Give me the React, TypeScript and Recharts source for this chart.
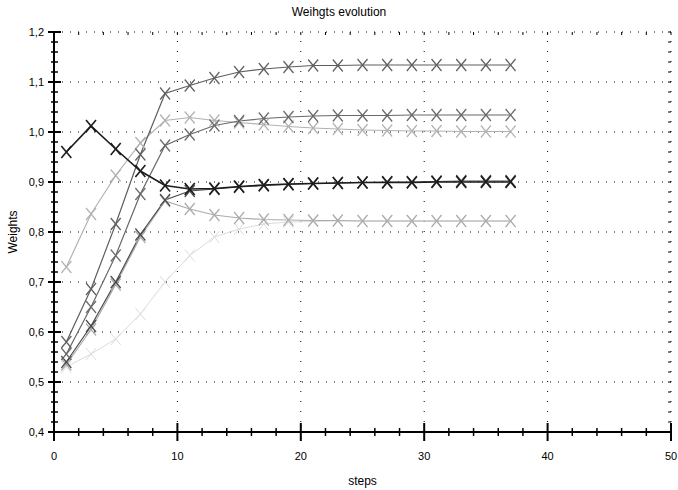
import React from "react";
import {
  LineChart,
  Line,
  XAxis,
  YAxis,
  ReferenceLine,
  Label,
} from "recharts";

// steps where the weights were sampled (marker positions)
const steps = [1, 3, 5, 7, 9, 11, 13, 15, 17, 19, 21, 23, 25, 27, 29, 31, 33, 35, 37];

const weightA = [0.58, 0.686, 0.816, 0.955, 1.077, 1.093, 1.108, 1.12, 1.126, 1.13, 1.133, 1.133, 1.134, 1.134, 1.134, 1.134, 1.134, 1.134, 1.134];
const weightB = [0.556, 0.65, 0.753, 0.876, 0.973, 0.995, 1.013, 1.022, 1.027, 1.03, 1.032, 1.033, 1.033, 1.033, 1.034, 1.034, 1.034, 1.034, 1.034];
const weightC = [0.73, 0.836, 0.913, 0.978, 1.023, 1.029, 1.023, 1.019, 1.015, 1.011, 1.008, 1.006, 1.004, 1.003, 1.002, 1.002, 1.001, 1.001, 1.001];
const weightD = [0.96, 1.012, 0.966, 0.922, 0.893, 0.886, 0.887, 0.891, 0.894, 0.896, 0.897, 0.898, 0.899, 0.899, 0.899, 0.9, 0.9, 0.9, 0.9];
const weightE = [0.54, 0.612, 0.7, 0.795, 0.864, 0.882, 0.886, 0.89, 0.893, 0.895, 0.897, 0.898, 0.899, 0.9, 0.9, 0.901, 0.902, 0.902, 0.902];
const weightF = [0.535, 0.605, 0.695, 0.79, 0.862, 0.846, 0.834, 0.828, 0.825, 0.824, 0.823, 0.823, 0.822, 0.822, 0.822, 0.822, 0.822, 0.822, 0.822];
const weightG = [0.53, 0.556, 0.586, 0.636, 0.7, 0.753, 0.79, 0.806, 0.816, 0.82, 0.821, 0.822, 0.822, 0.822, 0.822, 0.822, 0.822, 0.822, 0.822];

const xLabels = [0, 10, 20, 30, 40, 50];
const yLabels = [0.4, 0.5, 0.6, 0.7, 0.8, 0.9, 1.0, 1.1, 1.2];

// minor ticks: every 2 steps / every 0.02
const xTicks = Array.from({ length: 26 }, (_, i) => i * 2);
const yTicks = Array.from({ length: 41 }, (_, i) => Math.round((0.4 + i * 0.02) * 100) / 100);

const chartData = steps.map((step, i) => ({
  step,
  a: weightA[i],
  b: weightB[i],
  c: weightC[i],
  d: weightD[i],
  e: weightE[i],
  f: weightF[i],
  g: weightG[i],
}));

const W = 678;
const H = 490;
const LEFT = 54;
const TOP = 32;
const PLOT_W = 617;
const PLOT_H = 400;
const FONT = "'Liberation Sans', Arial, sans-serif";

const XTick = (props: any) => {
  const { x, y, payload } = props;
  const major = payload.value % 10 === 0;
  return (
    <g>
      <line x1={x} x2={x} y1={y - (major ? 9 : 4)} y2={y + (major ? 9 : 4)} stroke="#000" strokeWidth={major ? 2 : 1.5} />
      <line x1={x} x2={x} y1={y - PLOT_H} y2={y - PLOT_H + 3} stroke="#000" strokeWidth={1} />
      {major && xLabels.includes(payload.value) && (
        <text x={x} y={y + 28} textAnchor="middle" fontSize={11} fontFamily={FONT} fill="#000">
          {payload.value}
        </text>
      )}
    </g>
  );
};

const YTick = (props: any) => {
  const { x, y, payload } = props;
  const major = Math.round(payload.value * 100) % 10 === 0;
  return (
    <g>
      <line x1={x - (major ? 6 : 3)} x2={x + (major ? 7 : 4)} y1={y} y2={y} stroke="#000" strokeWidth={major ? 2 : 1.5} />
      <line x1={x + PLOT_W - 3} x2={x + PLOT_W} y1={y} y2={y} stroke="#000" strokeWidth={1} />
      {major && (
        <text x={x - 10} y={y + 4} textAnchor="end" fontSize={11} fontFamily={FONT} fill="#000">
          {payload.value.toFixed(1).replace(".", ",")}
        </text>
      )}
    </g>
  );
};

const makeCross = (color: string, sw: number) => (props: any) => {
  const { cx, cy, index } = props;
  if (cx == null || cy == null) return <g key={index} />;
  return (
    <g key={index}>
      <line x1={cx - 5} y1={cy - 6} x2={cx + 5} y2={cy + 6} stroke={color} strokeWidth={sw} />
      <line x1={cx - 5} y1={cy + 6} x2={cx + 5} y2={cy - 6} stroke={color} strokeWidth={sw} />
    </g>
  );
};

const series = [
  { key: "g", color: "#dcdcdc", width: 1 },
  { key: "f", color: "#ababab", width: 1.2 },
  { key: "c", color: "#b2b2b2", width: 1.2 },
  { key: "e", color: "#4a4a4a", width: 1.2 },
  { key: "b", color: "#686868", width: 1.2 },
  { key: "a", color: "#5e5e5e", width: 1.2 },
  { key: "d", color: "#1c1c1c", width: 1.6 },
];

export default function App() {
  return (
    <div style={{ position: "relative", width: W, height: H, background: "#fff", fontFamily: FONT }}>
      <style>{"body{margin:0}"}</style>
      <div
        style={{
          position: "absolute",
          top: 5,
          left: 0,
          width: W,
          textAlign: "center",
          fontSize: 12,
          color: "#000",
        }}
      >
        Weihgts evolution
      </div>
      <LineChart
        width={W}
        height={H}
        data={chartData}
        margin={{ top: TOP, right: W - LEFT - PLOT_W, bottom: 18, left: 0 }}
      >
        {yLabels.slice(1).map((v) => (
          <ReferenceLine key={"h" + v} y={v} stroke="#000" strokeDasharray="1 7" />
        ))}
        {xLabels.slice(1).map((v) => (
          <ReferenceLine key={"v" + v} x={v} stroke="#000" strokeDasharray="1 9" />
        ))}
        <XAxis
          dataKey="step"
          type="number"
          domain={[0, 50]}
          ticks={xTicks}
          interval={0}
          tickSize={0}
          tickMargin={0}
          tickLine={false}
          tick={<XTick />}
          axisLine={{ stroke: "#000", strokeWidth: 2 }}
          height={H - TOP - PLOT_H - 18}
        >
          <Label
            content={() => (
              <text x={LEFT + PLOT_W / 2} y={485} textAnchor="middle" fontSize={12} fontFamily={FONT} fill="#000">
                steps
              </text>
            )}
          />
        </XAxis>
        <YAxis
          type="number"
          domain={[0.4, 1.2]}
          ticks={yTicks}
          interval={0}
          tickSize={0}
          tickMargin={0}
          tickLine={false}
          tick={<YTick />}
          axisLine={{ stroke: "#000", strokeWidth: 2 }}
          width={LEFT}
        >
          <Label
            content={() => (
              <text
                x={17}
                y={TOP + PLOT_H / 2}
                transform={`rotate(-90, 17, ${TOP + PLOT_H / 2})`}
                textAnchor="middle"
                fontSize={12}
                fontFamily={FONT}
                fill="#000"
              >
                Weights
              </text>
            )}
          />
        </YAxis>
        {series.map((s) => (
          <Line
            key={s.key}
            type="linear"
            dataKey={s.key}
            stroke={s.color}
            strokeWidth={s.width}
            dot={makeCross(s.color, s.width)}
            activeDot={false}
            isAnimationActive={false}
          />
        ))}
        <ReferenceLine x={0} stroke="#000" strokeWidth={2} />
        <ReferenceLine y={0.4} stroke="#000" strokeWidth={2} />
      </LineChart>
    </div>
  );
}
